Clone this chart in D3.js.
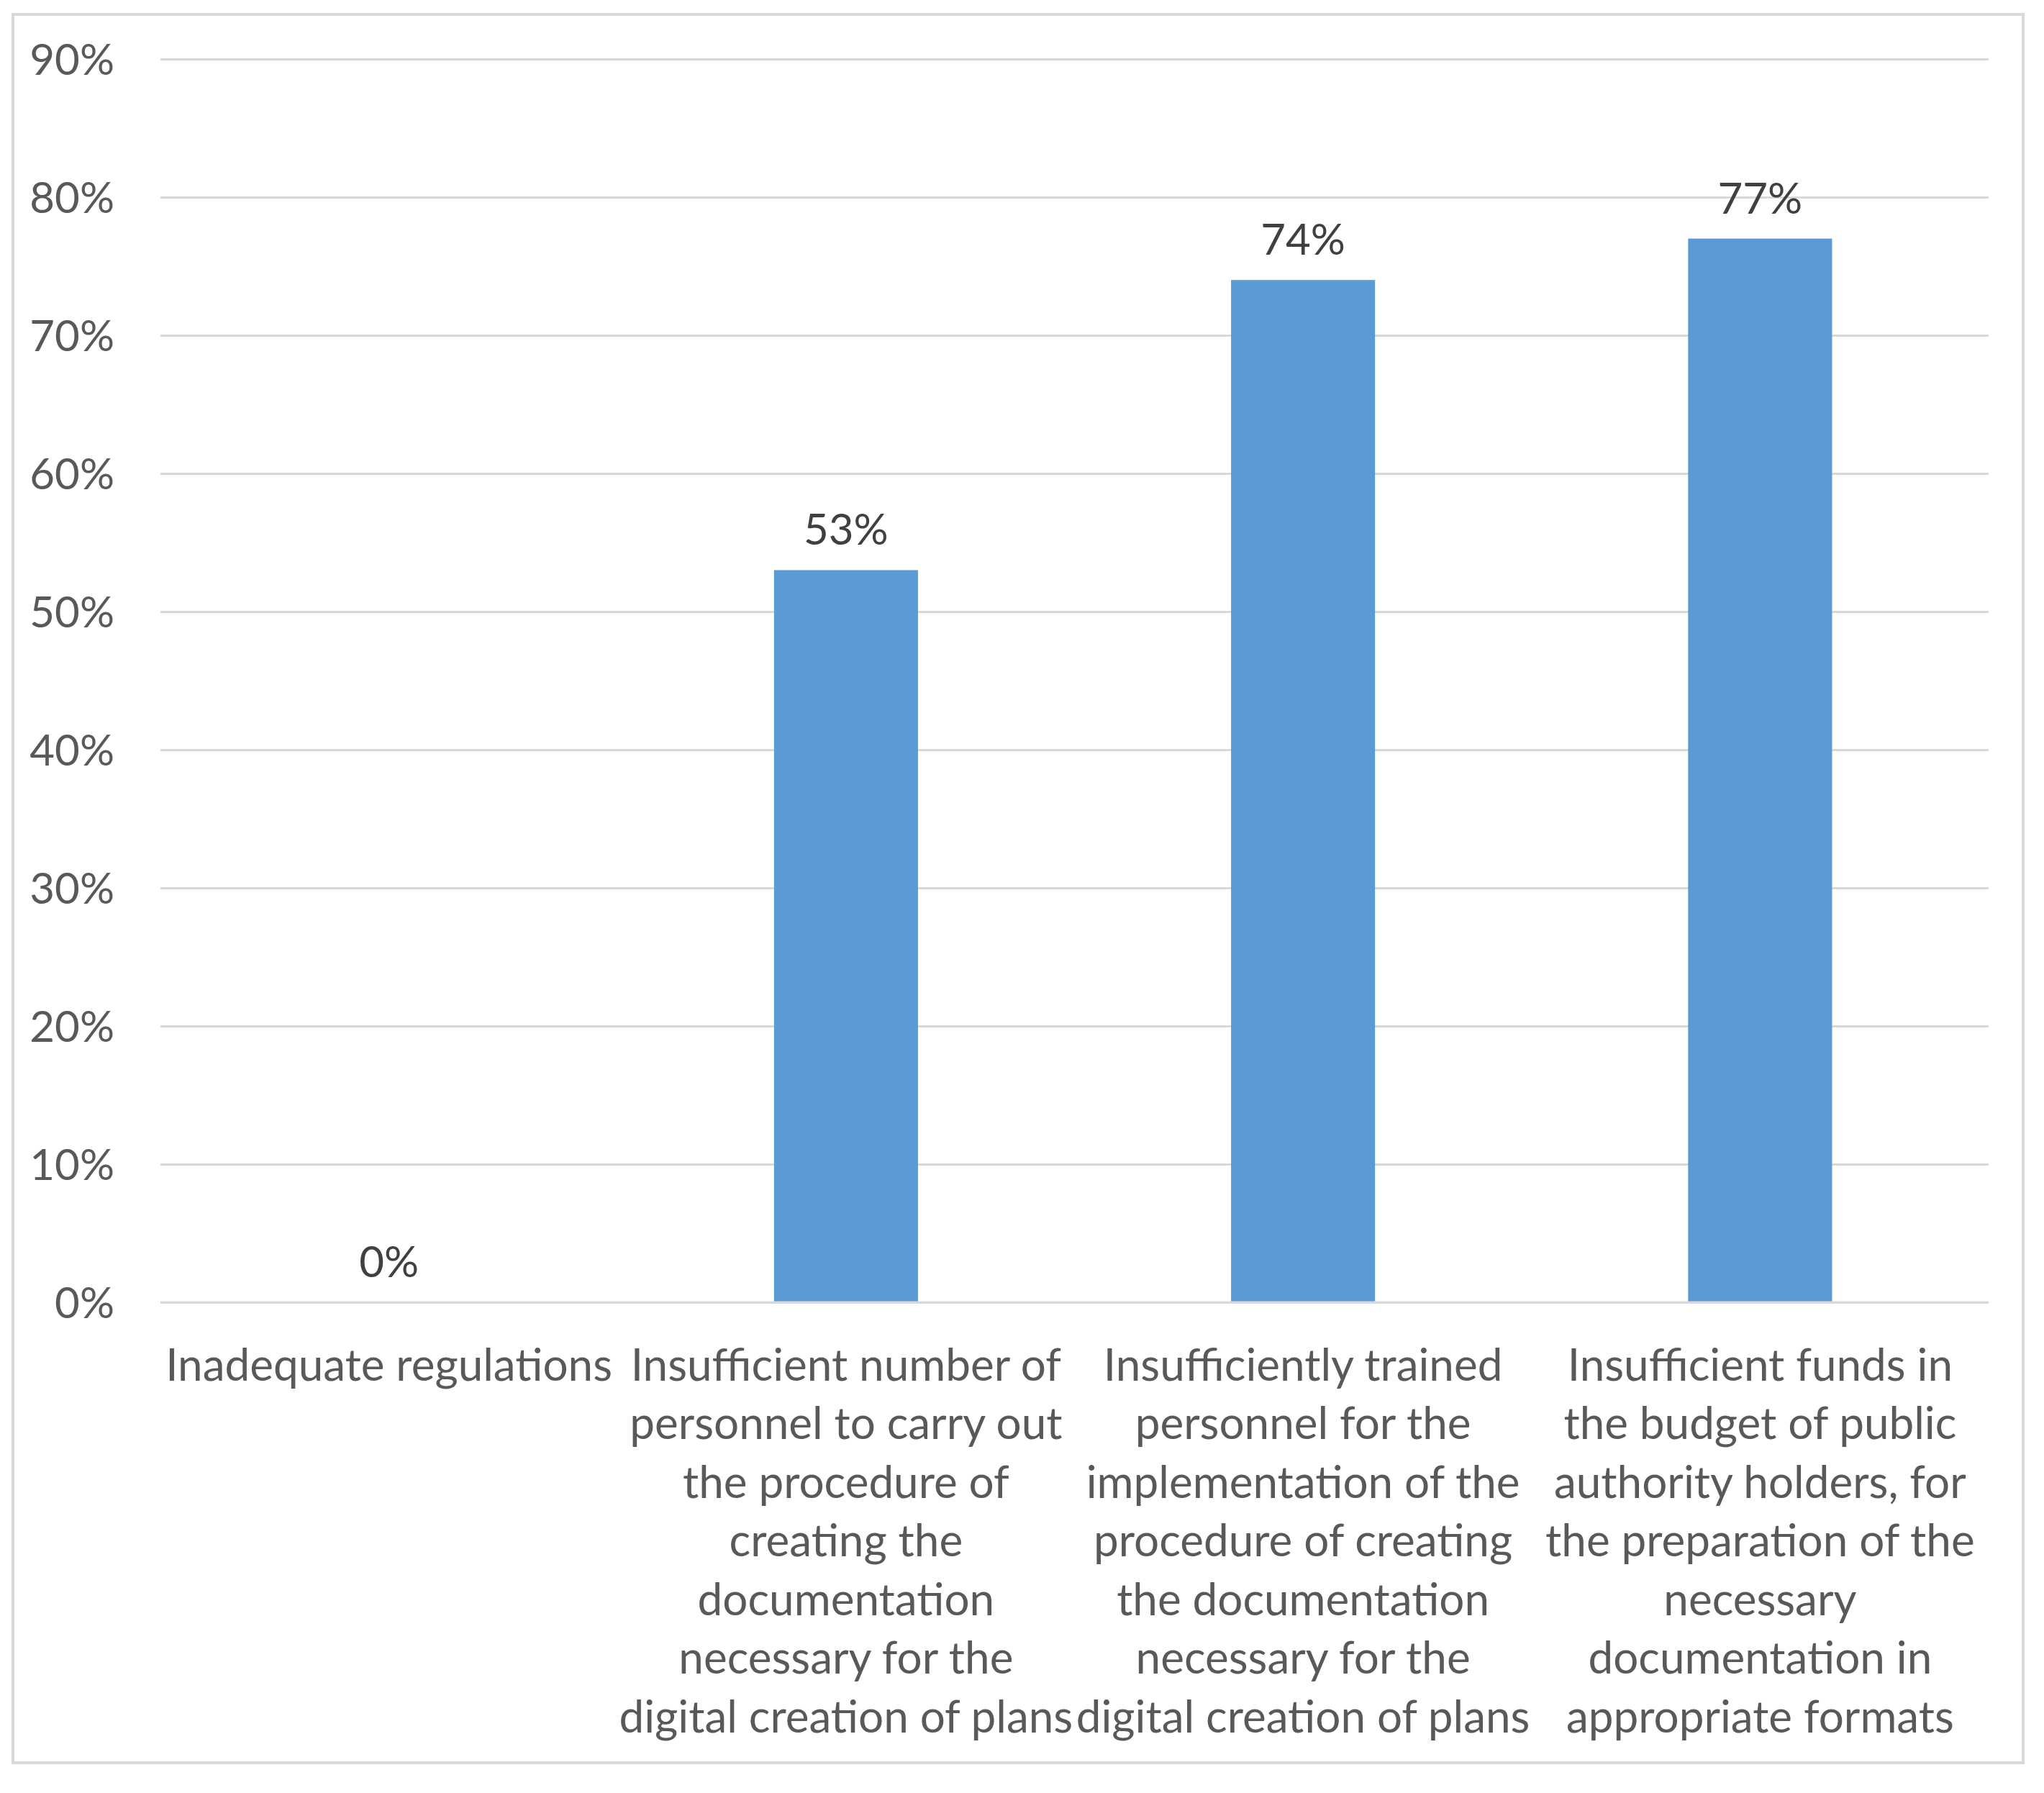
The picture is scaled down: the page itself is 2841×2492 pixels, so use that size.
<!DOCTYPE html>
<html>
<head>
<meta charset="utf-8">
<script src="https://cdn.jsdelivr.net/npm/d3@7"></script>
<style>
  html, body { margin: 0; padding: 0; background: #ffffff; }
  svg { display: block; }
</style>
</head>
<body>
<script>
// ---- data ----
const categories = [
  "Inadequate regulations",
  "Insufficient number of personnel to carry out the procedure of creating the documentation necessary for the digital creation of plans",
  "Insufficiently trained personnel for the implementation of the procedure of creating the documentation necessary for the digital creation of plans",
  "Insufficient funds in the budget of public authority holders, for the preparation of the necessary documentation in appropriate formats"
];
const categoryLines = [
  ["Inadequate regulations"],
  ["Insufficient number of", "personnel to carry out", "the procedure of", "creating the", "documentation", "necessary for the", "digital creation of plans"],
  ["Insufficiently trained", "personnel for the", "implementation of the", "procedure of creating", "the documentation", "necessary for the", "digital creation of plans"],
  ["Insufficient funds in", "the budget of public", "authority holders, for", "the preparation of the", "necessary", "documentation in", "appropriate formats"]
];
const values = [0, 53, 74, 77];
const yTicks = [0, 10, 20, 30, 40, 50, 60, 70, 80, 90];
const yTickLabels = ["0%", "10%", "20%", "30%", "40%", "50%", "60%", "70%", "80%", "90%"];

// ---- layout ----
const W = 2841, H = 2492;
const plot = { left: 223, right: 2764, top: 82, bottom: 1810 };
const FONT = "Lato, 'Open Sans', sans-serif";
const FS = 60;
const FS_CAT = 62;

const svg = d3.select("body").append("svg")
  .attr("width", W).attr("height", H);

svg.append("rect").attr("width", W).attr("height", H).attr("fill", "#ffffff");

// outer border
svg.append("rect")
  .attr("x", 18).attr("y", 20)
  .attr("width", 2794).attr("height", 2430)
  .attr("fill", "#ffffff")
  .attr("stroke", "#d9d9d9").attr("stroke-width", 4);

const x = d3.scaleBand().domain(categories).range([plot.left, plot.right]).padding(0);
const y = d3.scaleLinear().domain([0, 90]).range([plot.bottom, plot.top]);

// gridlines
const yAxis = d3.axisLeft(y).tickValues(yTicks).tickSize(-(plot.right - plot.left))
  .tickFormat((d, i) => yTickLabels[i]).tickPadding(64);
const gY = svg.append("g").attr("transform", `translate(${plot.left},0)`).call(yAxis);
gY.select(".domain").remove();
gY.selectAll(".tick line").attr("stroke", "#d9d9d9").attr("stroke-width", 3);
gY.selectAll(".tick text")
  .attr("fill", "#595959")
  .attr("font-family", FONT)
  .attr("font-size", FS)
  .attr("dy", "0.35em");

// bars
const barW = x.bandwidth() * 0.315;
svg.append("g").selectAll("rect")
  .data(values)
  .join("rect")
  .attr("x", (d, i) => x(categories[i]) + x.bandwidth() / 2 - barW / 2)
  .attr("y", d => y(d))
  .attr("width", barW)
  .attr("height", d => y(0) - y(d))
  .attr("fill", "#5b9bd5");

// axis line
svg.append("line")
  .attr("x1", plot.left).attr("x2", plot.right)
  .attr("y1", y(0)).attr("y2", y(0))
  .attr("stroke", "#d9d9d9").attr("stroke-width", 3);

// data labels
svg.append("g").selectAll("text")
  .data(values)
  .join("text")
  .attr("x", (d, i) => x(categories[i]) + x.bandwidth() / 2)
  .attr("y", d => y(d) - 56)
  .attr("dy", "0.35em")
  .attr("text-anchor", "middle")
  .attr("font-family", FONT)
  .attr("font-size", FS)
  .attr("fill", "#404040")
  .text(d => d + "%");

// category labels
const catG = svg.append("g");
categoryLines.forEach((lines, i) => {
  const cx = x(categories[i]) + x.bandwidth() / 2;
  const t = catG.append("text")
    .attr("text-anchor", "middle")
    .attr("font-family", FONT)
    .attr("font-size", FS_CAT)
    .attr("fill", "#595959");
  lines.forEach((ln, j) => {
    t.append("tspan")
      .attr("x", cx)
      .attr("y", 1897 + j * 81.5)
      .attr("dy", "0.35em")
      .text(ln);
  });
});
</script>
</body>
</html>
